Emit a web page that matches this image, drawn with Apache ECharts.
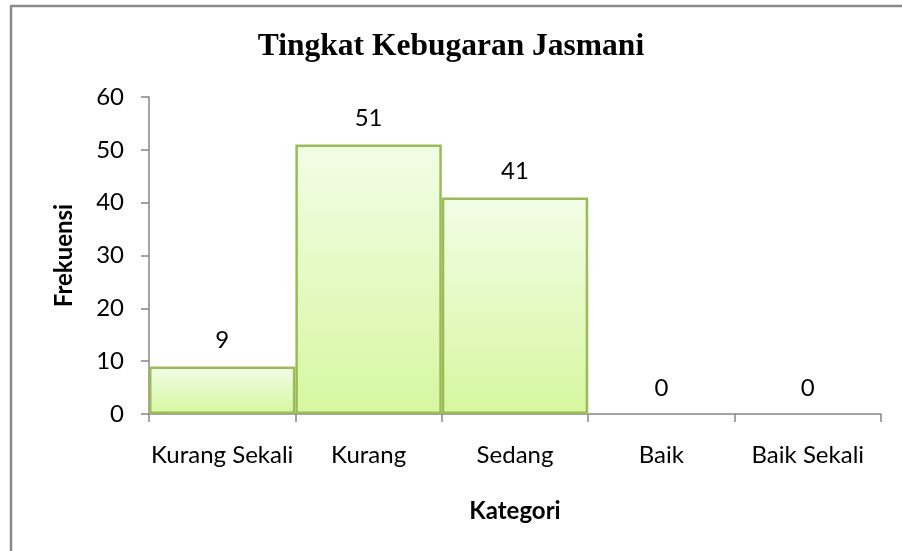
<!DOCTYPE html>
<html>
<head>
<meta charset="utf-8">
<script src="https://cdn.jsdelivr.net/npm/echarts@6/dist/echarts.min.js"></script>
<style>
  html, body { margin: 0; padding: 0; background: #fff; }
  #chart { width: 902px; height: 551px; }
</style>
</head>
<body>
<div id="chart"></div>
<script>
// kategori dan frekuensi
const categories = ["Kurang Sekali", "Kurang", "Sedang", "Baik", "Baik Sekali"];
const frekuensi = [9, 51, 41, 0, 0];
const yTicks = [0, 10, 20, 30, 40, 50, 60];

const chart = echarts.init(document.getElementById("chart"));

const labelFont = "Lato, 'Open Sans', sans-serif";

chart.setOption({
    animation: false,
    backgroundColor: "#fff",
    title: {
        text: "Tingkat Kebugaran Jasmani",
        left: "center",
        top: 26,
        textStyle: {
            fontFamily: "'Liberation Serif', 'Times New Roman', serif",
            fontWeight: "bold",
            fontSize: 31.5,
            color: "#000",
        },
    },
    // bingkai kiri & atas
    graphic: [
        { type: "line", shape: { x1: 11, y1: 6, x2: 11, y2: 551 }, style: { stroke: "#8a8a8a", lineWidth: 2.5 } },
        { type: "line", shape: { x1: 10, y1: 6, x2: 902, y2: 6 }, style: { stroke: "#8a8a8a", lineWidth: 2.5 } },
    ],
    grid: {
        left: 149,
        right: 21,
        top: 97,
        bottom: 137,
    },
    xAxis: {
        type: "category",
        data: categories,
        name: "Kategori",
        nameLocation: "middle",
        nameGap: 85,
        nameTextStyle: {
            fontFamily: labelFont,
            fontWeight: "bold",
            fontSize: 24,
            color: "#000",
        },
        axisLine: { lineStyle: { color: "#868686", width: 1.5 } },
        axisTick: { show: true, length: 8, lineStyle: { color: "#868686", width: 1.5 } },
        axisLabel: {
            margin: 29,
            fontFamily: labelFont,
            fontSize: 24,
            color: "#000",
            interval: 0,
        },
    },
    yAxis: {
        type: "value",
        min: yTicks[0],
        max: yTicks[yTicks.length - 1],
        interval: 10,
        name: "Frekuensi",
        nameLocation: "middle",
        nameGap: 73,
        nameTextStyle: {
            fontFamily: labelFont,
            fontWeight: "bold",
            fontSize: 24,
            color: "#000",
        },
        axisLine: { show: true, lineStyle: { color: "#868686", width: 1.5 } },
        axisTick: { show: true, length: 8, lineStyle: { color: "#868686", width: 1.5 } },
        splitLine: { show: false },
        axisLabel: {
            margin: 25,
            fontFamily: labelFont,
            fontSize: 24,
            color: "#000",
        },
    },
    series: [
        {
            type: "bar",
            barCategoryGap: "0%",
            data: frekuensi.map((v) => ({
                value: v,
                itemStyle: v === 0 ? { borderWidth: 0 } : undefined,
            })),
            itemStyle: {
                color: new echarts.graphic.LinearGradient(0, 0, 0, 1, [
                    { offset: 0, color: "#f2fde6" },
                    { offset: 1, color: "#d6f7a0" },
                ]),
                borderColor: "#9bbb59",
                borderWidth: 2.5,
            },
            label: {
                show: true,
                position: "top",
                distance: 14,
                fontFamily: labelFont,
                fontSize: 24,
                color: "#000",
            },
        },
    ],
});
</script>
</body>
</html>
